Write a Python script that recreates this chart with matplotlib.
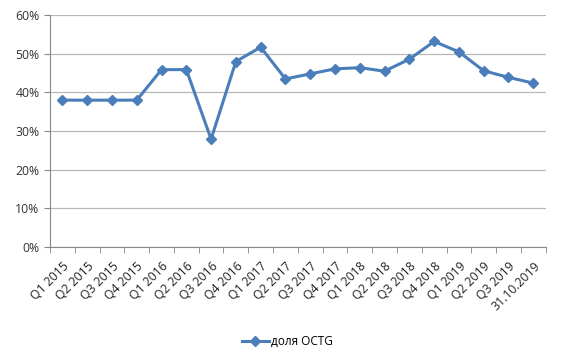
import numpy as np
import matplotlib.pyplot as plt
from matplotlib.ticker import FuncFormatter

categories = ["Q1 2015", "Q2 2015", "Q3 2015", "Q4 2015",
              "Q1 2016", "Q2 2016", "Q3 2016", "Q4 2016",
              "Q1 2017", "Q2 2017", "Q3 2017", "Q4 2017",
              "Q1 2018", "Q2 2018", "Q3 2018", "Q4 2018",
              "Q1 2019", "Q2 2019", "Q3 2019", "31.10.2019"]
share = [38.0, 38.0, 38.0, 38.0, 45.9, 45.9, 27.9, 48.0,
         51.7, 43.5, 44.8, 46.1, 46.4, 45.5, 48.6, 53.2,
         50.5, 45.6, 43.9, 42.4]
series_name = "доля OCTG"

plt.rcParams["font.family"] = ["Open Sans", "DejaVu Sans"]

fig = plt.figure(figsize=(5.71, 3.61), dpi=100)
ax = fig.add_axes([0.0876, 0.316, 0.868, 0.642])

x = np.arange(len(categories))
ax.plot(x, share, color="#4a7ebb", lw=2.2, marker="D", ms=5.5,
        label=series_name, zorder=3)

ax.set_xlim(-0.5, len(categories) - 0.5)
ax.set_ylim(0, 60)
ax.set_yticks(np.arange(0, 61, 10))
ax.yaxis.set_major_formatter(FuncFormatter(lambda v, p: f"{v:.0f}%"))
ax.grid(axis="y", color="#b8b8b8", lw=0.9)
ax.set_axisbelow(True)

ax.set_xticks(x)
ax.set_xticklabels(categories, rotation=45, ha="right", rotation_mode="anchor")
ax.set_xticks(np.arange(-0.5, len(categories)), minor=True)
ax.tick_params(axis="x", which="major", length=0, pad=9, labelsize=8.8, colors="#222222")
ax.tick_params(axis="x", which="minor", length=4, color="#888888")
ax.tick_params(axis="y", length=4, color="#888888", labelsize=8.8, labelcolor="#333333")

for s in ["top", "right"]:
    ax.spines[s].set_visible(False)
ax.spines["left"].set_color("#888888")
ax.spines["bottom"].set_color("#888888")

fig.legend(loc="center", bbox_to_anchor=(0.503, 0.055), frameon=False,
           fontsize=8.5, handlelength=2.3, handletextpad=0.2)

plt.savefig("out.png", dpi=100)
plt.close()
